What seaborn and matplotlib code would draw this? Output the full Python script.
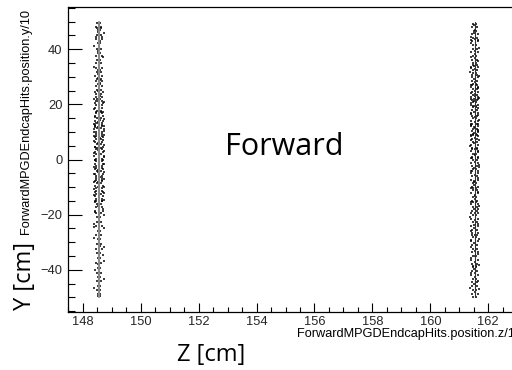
import matplotlib
matplotlib.use("Agg")
import matplotlib.pyplot as plt
import seaborn as sns
import pandas as pd
from matplotlib.ticker import MultipleLocator

# ---------------- data ----------------
left_y = [49.5, 48.2, 46.9, 45.0, 43.6, 42.1, 40.2, 38.8, 37.5, 36.1,
          34.9, 33.2, 32.4, 31.6, 30.3, 29.1, 28.4, 27.2, 26.6, 25.1,
          24.3, 23.7, 22.5, 21.8, 20.4, 19.9, 18.7, 17.6, 16.9, 15.8,
          15.2, 14.0, 13.3, 12.6, 11.4, 10.9, 9.8, 8.7, 8.1, 7.3,
          6.2, 5.5, 4.6, 3.9, 2.8, 1.9, 1.2, 0.3, -0.6, -1.5,
          -2.3, -3.4, -4.1, -5.2, -6.0, -6.8, -7.9, -8.6, -9.7, -10.5,
          -11.3, -12.6, -13.2, -14.4, -15.1, -16.3, -17.2, -18.6, -19.4, -21.0,
          -22.7, -24.1, -25.9, -27.3, -29.0, -30.8, -32.5, -33.9, -35.6, -37.4,
          -39.2, -41.0, -42.7, -44.1, -45.8, -47.3, -48.9, -49.6, 47.8, 44.3,
          21.1, 17.1, 12.1, 9.2, 4.2, -0.1, -3.0, -7.3, -11.9, -14.9]
left_z1 = [148.50, 148.47, 148.52, 148.49, 148.46, 148.51, 148.48, 148.53, 148.45, 148.50,
           148.47, 148.44, 148.51, 148.48, 148.43, 148.50, 148.46, 148.52, 148.45, 148.49,
           148.42, 148.47, 148.44, 148.50, 148.41, 148.46, 148.43, 148.49, 148.45, 148.42,
           148.48, 148.41, 148.45, 148.43, 148.49, 148.40, 148.46, 148.44, 148.42, 148.47,
           148.43, 148.48, 148.41, 148.45, 148.42, 148.47, 148.40, 148.44, 148.46, 148.41,
           148.45, 148.42, 148.48, 148.41, 148.44, 148.46, 148.43, 148.49, 148.42, 148.45,
           148.44, 148.47, 148.42, 148.46, 148.43, 148.48, 148.45, 148.41, 148.47, 148.50,
           148.49, 148.46, 148.51, 148.47, 148.52, 148.48, 148.45, 148.50, 148.53, 148.47,
           148.51, 148.48, 148.53, 148.49, 148.52, 148.50, 148.54, 148.51, 148.48, 148.46,
           148.44, 148.47, 148.43, 148.45, 148.48, 148.42, 148.46, 148.44, 148.41, 148.45]
left_z2 = [148.61, 148.64, 148.59, 148.62, 148.66, 148.60, 148.63, 148.58, 148.65, 148.61,
           148.64, 148.67, 148.60, 148.63, 148.68, 148.62, 148.65, 148.59, 148.66, 148.63,
           148.69, 148.64, 148.67, 148.61, 148.70, 148.65, 148.68, 148.62, 148.66, 148.71,
           148.63, 148.70, 148.66, 148.68, 148.62, 148.72, 148.65, 148.67, 148.69, 148.64,
           148.68, 148.63, 148.71, 148.66, 148.69, 148.64, 148.72, 148.67, 148.65, 148.70,
           148.66, 148.69, 148.63, 148.70, 148.67, 148.65, 148.68, 148.62, 148.69, 148.66,
           148.67, 148.64, 148.69, 148.65, 148.68, 148.63, 148.66, 148.70, 148.64, 148.61,
           148.62, 148.65, 148.60, 148.64, 148.59, 148.63, 148.66, 148.61, 148.58, 148.64,
           148.60, 148.63, 148.58, 148.62, 148.59, 148.61, 148.58, 148.60, 148.63, 148.65,
           148.67, 148.64, 148.68, 148.66, 148.63, 148.69, 148.65, 148.67, 148.70, 148.66]
left_y3 = [48.6, 46.1, 43.0, 39.4, 35.5, 31.0, 28.9, 26.0, 24.8, 23.1,
           22.0, 20.9, 19.2, 18.2, 17.3, 16.4, 15.5, 14.6, 13.7, 12.9,
           12.3, 11.8, 11.1, 10.5, 10.0, 9.4, 8.9, 8.4, 7.8, 7.0,
           6.6, 6.0, 5.1, 4.4, 3.6, 3.0, 2.4, 1.6, 0.8, 0.0,
           -0.9, -1.8, -2.7, -3.7, -4.5, -5.4, -6.3, -7.1, -8.1, -9.0,
           -9.9, -10.8, -11.6, -12.3, -13.0, -13.8, -14.6, -15.5, -16.8, -17.8,
           -19.0, -20.3, -21.5, -23.5, -25.0, -26.5, -28.3, -31.5, -34.6, -38.0,
           25.5, 21.3, 18.0, 14.3, 11.7, 9.0, 5.9, 2.2, -1.1, -4.7,
           -8.3, -12.0, -15.8, 29.6, 27.8, 13.1, 7.6, 1.5, -5.9, -10.1,
           -43.4, -46.6, 45.7, 41.2, 37.0, 33.6, -36.8, -40.1, -31.9, -24.6]
left_z3 = [148.55, 148.53, 148.58, 148.54, 148.57, 148.52, 148.59, 148.55, 148.53, 148.58,
           148.40, 148.73, 148.55, 148.39, 148.71, 148.57, 148.42, 148.74, 148.54, 148.38,
           148.72, 148.41, 148.57, 148.74, 148.39, 148.55, 148.73, 148.40, 148.58, 148.71,
           148.39, 148.56, 148.74, 148.42, 148.54, 148.72, 148.38, 148.57, 148.73, 148.41,
           148.56, 148.74, 148.39, 148.53, 148.72, 148.40, 148.58, 148.73, 148.38, 148.55,
           148.73, 148.40, 148.56, 148.72, 148.39, 148.57, 148.74, 148.41, 148.54, 148.71,
           148.41, 148.72, 148.55, 148.39, 148.73, 148.56, 148.40, 148.58, 148.71, 148.54,
           148.57, 148.53, 148.55, 148.58, 148.54, 148.56, 148.52, 148.57, 148.55, 148.53,
           148.54, 148.57, 148.55, 148.53, 148.58, 148.54, 148.56, 148.55, 148.57, 148.53,
           148.72, 148.39, 148.74, 148.40, 148.71, 148.38, 148.73, 148.41, 148.72, 148.39]

right_y = [49.3, 48.1, 46.6, 45.4, 44.0, 42.8, 41.5, 40.1, 38.9, 37.6,
           36.2, 35.0, 33.7, 32.3, 31.2, 29.8, 28.6, 27.5, 26.3, 25.4,
           24.6, 23.5, 22.7, 21.6, 20.8, 19.7, 18.9, 17.8, 16.8, 15.9,
           15.0, 14.1, 13.0, 12.2, 11.1, 10.3, 9.2, 8.4, 7.3, 6.5,
           5.4, 4.3, 3.2, 2.1, 1.0, -0.2, -1.3, -2.5, -3.6, -4.8,
           -6.1, -7.3, -8.6, -9.8, -11.0, -12.3, -13.6, -14.9, -16.1, -17.4,
           -18.7, -20.0, -21.4, -22.7, -24.1, -25.4, -26.8, -28.2, -29.5, -30.9,
           -32.3, -33.6, -35.0, -36.4, -37.8, -39.1, -40.5, -41.9, -43.2, -44.6,
           -46.0, -47.3, -48.6, -49.7, 43.3, 34.4, 27.0, 19.3, 12.7, 3.7,
           -4.2, -10.4, -19.3, -27.5, -38.5, 30.5, 22.1, 8.9, 0.5, -15.5]
right_z1 = [161.48, 161.45, 161.50, 161.43, 161.47, 161.44, 161.49, 161.46, 161.42, 161.48,
            161.44, 161.47, 161.41, 161.46, 161.49, 161.43, 161.45, 161.48, 161.42, 161.46,
            161.43, 161.46, 161.40, 161.45, 161.48, 161.42, 161.47, 161.44, 161.41, 161.45,
            161.47, 161.42, 161.45, 161.40, 161.46, 161.43, 161.48, 161.41, 161.44, 161.46,
            161.42, 161.45, 161.41, 161.47, 161.43, 161.46, 161.40, 161.44, 161.48, 161.42,
            161.45, 161.41, 161.47, 161.43, 161.46, 161.42, 161.48, 161.44, 161.41, 161.46,
            161.44, 161.48, 161.42, 161.46, 161.40, 161.45, 161.43, 161.47, 161.42, 161.45,
            161.46, 161.43, 161.48, 161.41, 161.45, 161.49, 161.44, 161.42, 161.47, 161.44,
            161.45, 161.49, 161.43, 161.47, 161.42, 161.46, 161.44, 161.48, 161.41, 161.45,
            161.43, 161.47, 161.42, 161.45, 161.48, 161.44, 161.41, 161.46, 161.43, 161.47]
right_z2 = [161.58, 161.62, 161.57, 161.64, 161.60, 161.63, 161.58, 161.61, 161.65, 161.59,
            161.62, 161.59, 161.65, 161.60, 161.57, 161.63, 161.61, 161.58, 161.64, 161.60,
            161.63, 161.60, 161.66, 161.61, 161.58, 161.64, 161.59, 161.62, 161.65, 161.61,
            161.59, 161.64, 161.61, 161.66, 161.60, 161.63, 161.58, 161.65, 161.62, 161.60,
            161.64, 161.61, 161.65, 161.59, 161.63, 161.60, 161.66, 161.62, 161.58, 161.64,
            161.61, 161.65, 161.59, 161.63, 161.60, 161.64, 161.58, 161.62, 161.65, 161.60,
            161.62, 161.58, 161.64, 161.60, 161.66, 161.61, 161.63, 161.59, 161.64, 161.61,
            161.60, 161.63, 161.58, 161.65, 161.61, 161.57, 161.62, 161.64, 161.59, 161.62,
            161.61, 161.57, 161.63, 161.59, 161.64, 161.60, 161.62, 161.58, 161.65, 161.61,
            161.63, 161.59, 161.64, 161.61, 161.58, 161.62, 161.65, 161.60, 161.63, 161.59]
right_y3 = [48.7, 47.0, 45.8, 43.7, 42.4, 40.6, 39.5, 37.2, 35.7, 34.0,
            32.8, 31.7, 30.1, 29.2, 28.0, 26.9, 25.8, 24.9, 24.0, 23.0,
            22.3, 21.2, 20.4, 19.5, 18.5, 17.4, 16.4, 15.4, 14.5, 13.6,
            12.6, 11.6, 10.7, 9.7, 8.8, 7.8, 6.9, 5.9, 4.9, 3.9,
            2.8, 1.6, 0.5, -0.8, -1.9, -3.0, -4.2, -5.5, -6.7, -7.9,
            -9.2, -10.4, -11.7, -12.9, -14.2, -15.5, -16.8, -18.1, -19.5, -20.8,
            -22.1, -23.4, -24.8, -26.1, -27.5, -28.9, -30.2, -31.6, -33.0, -34.3,
            -35.7, -37.1, -38.4, -39.8, -41.2, -42.5, -43.9, -45.3, -46.6, -48.0,
            36.8, 33.1, 23.8, 16.1, 11.9, 7.0, 1.9, -2.9, -8.0, -13.1,
            -17.9, -23.9, -29.1, -34.9, -41.0, -47.1, 44.6, 38.2, 21.9, 10.0]
right_z3 = [161.52, 161.55, 161.51, 161.54, 161.39, 161.67, 161.53, 161.40, 161.66, 161.52,
            161.54, 161.38, 161.67, 161.51, 161.55, 161.40, 161.66, 161.53, 161.39, 161.54,
            161.67, 161.52, 161.39, 161.55, 161.66, 161.51, 161.40, 161.54, 161.67, 161.53,
            161.39, 161.54, 161.66, 161.52, 161.40, 161.55, 161.67, 161.51, 161.38, 161.53,
            161.66, 161.53, 161.40, 161.54, 161.67, 161.52, 161.39, 161.55, 161.66, 161.51,
            161.52, 161.39, 161.66, 161.54, 161.53, 161.40, 161.67, 161.51, 161.55, 161.38,
            161.54, 161.66, 161.52, 161.39, 161.55, 161.67, 161.51, 161.40, 161.53, 161.66,
            161.39, 161.53, 161.67, 161.52, 161.40, 161.54, 161.66, 161.51, 161.38, 161.55,
            161.53, 161.40, 161.54, 161.66, 161.52, 161.39, 161.55, 161.67, 161.51, 161.54,
            161.66, 161.52, 161.39, 161.55, 161.53, 161.67, 161.40, 161.54, 161.52, 161.66]

# dense core of hits in each layer
core_left_z = [148.56, 148.56]
core_right_z = [161.53, 161.53]
core_y = [-50, 50]

x_ticks = [148, 150, 152, 154, 156, 158, 160, 162]
y_ticks = [-40, -20, 0, 20, 40]

# ---------------- build tables ----------------
hits = pd.concat([
    pd.DataFrame({"z": left_z1, "y": left_y}),
    pd.DataFrame({"z": left_z2, "y": left_y}),
    pd.DataFrame({"z": left_z3, "y": left_y3}),
    pd.DataFrame({"z": right_z1, "y": right_y}),
    pd.DataFrame({"z": right_z2, "y": right_y}),
    pd.DataFrame({"z": right_z3, "y": right_y3}),
], ignore_index=True)
core_l = pd.DataFrame({"z": core_left_z, "y": core_y})
core_r = pd.DataFrame({"z": core_right_z, "y": core_y})

# ---------------- plot ----------------
sns.set_theme(style="white")
plt.rcParams["font.family"] = ["Liberation Sans", "DejaVu Sans"]

fig = plt.figure(figsize=(5.12, 3.70), dpi=100)
ax = fig.add_axes([68 / 512, 1 - 312 / 370, 1 - 68 / 512, (312 - 7) / 370])

sns.lineplot(data=core_l, x="z", y="y", ax=ax, color="#8a8a8a", linewidth=1.5,
             sort=False, estimator=None)
sns.lineplot(data=core_r, x="z", y="y", ax=ax, color="#333333", linewidth=0.8,
             sort=False, estimator=None)
sns.scatterplot(data=hits, x="z", y="y", ax=ax, marker="s", s=0.9, color="black",
                linewidth=0, alpha=0.75)

ax.set_xlim(147.49, 162.82)
ax.set_ylim(-55.3, 55.3)

ax.set_xticks(x_ticks)
ax.set_yticks(y_ticks)
ax.set_xticklabels([str(v) for v in x_ticks])
ax.set_yticklabels([str(v).replace("-", "\u2212") for v in y_ticks])
ax.xaxis.set_minor_locator(MultipleLocator(0.5))
ax.yaxis.set_minor_locator(MultipleLocator(5))

ax.tick_params(axis="x", which="major", direction="in", length=6.5, width=0.8,
               color="black", labelsize=9.3, pad=3, bottom=True, top=False)
ax.tick_params(axis="x", which="minor", direction="in", length=3.3, width=0.8,
               color="black", bottom=True, top=False)
ax.tick_params(axis="y", which="major", direction="in", length=10, width=0.8,
               color="black", labelsize=9.3, pad=4, left=True, right=False)
ax.tick_params(axis="y", which="minor", direction="in", length=5, width=0.8,
               color="black", left=True, right=False)

for side in ["left", "bottom", "top"]:
    ax.spines[side].set_visible(True)
    ax.spines[side].set_color("black")
    ax.spines[side].set_linewidth(0.9)
ax.spines["right"].set_visible(False)

ax.set_xlabel("")
ax.set_ylabel("")

# ROOT-style small axis titles
fig.text(297 / 512, 1 - 334 / 370, "ForwardMPGDEndcapHits.position.z/10",
         ha="left", va="center", fontsize=9.2, color="black")
fig.text(26 / 512, 1 - 9 / 370, "ForwardMPGDEndcapHits.position.y/10",
         ha="center", va="top", rotation=90, fontsize=9.2, color="black")

# large annotation texts
big = ["Open Sans", "DejaVu Sans"]
fig.text(284 / 512, 1 - 147 / 370, "Forward", ha="center", va="center",
         fontsize=22, family=big, color="black")
fig.text(211 / 512, 1 - 355 / 370, "Z [cm]", ha="center", va="center",
         fontsize=17, family=big, color="black")
fig.text(25 / 512, 1 - 276 / 370, "Y [cm]", ha="center", va="center",
         rotation=90, fontsize=17, family=big, color="black")

fig.savefig("out.png", dpi=100)
